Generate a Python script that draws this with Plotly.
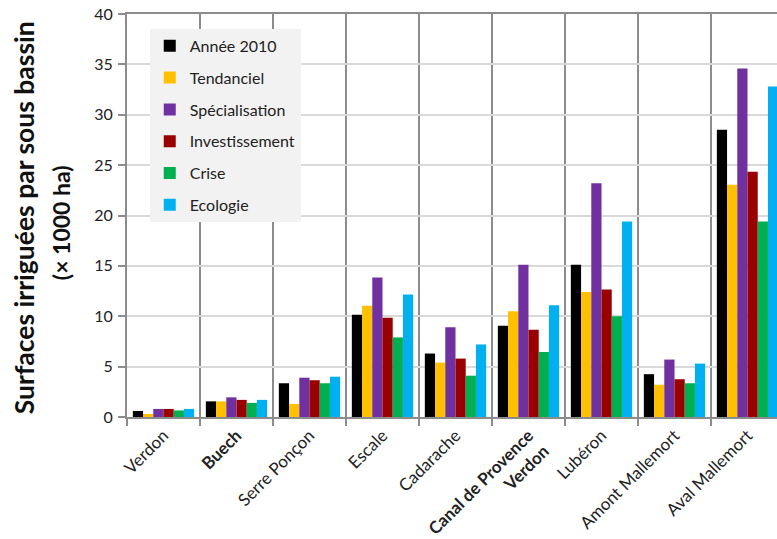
import plotly.graph_objects as go

categories = ["Verdon", "<b>Buech</b>", "Serre Ponçon", "Escale", "Cadarache",
              "<b>Canal de Provence<br>Verdon</b>", "Lubéron", "Amont Mallemort", "Aval Mallemort"]

annee_2010     = [0.6, 1.55, 3.35, 10.15, 6.3, 9.05, 15.1, 4.25, 28.5]
tendanciel     = [0.3, 1.55, 1.3, 11.05, 5.4, 10.5, 12.4, 3.2, 23.05]
specialisation = [0.8, 1.95, 3.9, 13.85, 8.9, 15.1, 23.2, 5.7, 34.6]
investissement = [0.8, 1.7, 3.65, 9.85, 5.8, 8.65, 12.65, 3.75, 24.35]
crise          = [0.65, 1.4, 3.35, 7.9, 4.1, 6.45, 10.0, 3.35, 19.4]
ecologie       = [0.8, 1.7, 4.0, 12.15, 7.2, 11.1, 19.4, 5.3, 32.8]

series = [
    ("Année 2010", annee_2010, "#000000"),
    ("Tendanciel", tendanciel, "#FFC000"),
    ("Spécialisation", specialisation, "#7030A0"),
    ("Investissement", investissement, "#990000"),
    ("Crise", crise, "#00B050"),
    ("Ecologie", ecologie, "#00B0F0"),
]

FONT = "Lato"

fig = go.Figure()
for i, (name, vals, col) in enumerate(series):
    fig.add_trace(go.Bar(x=categories, y=vals, name=name, marker_color=col,
                         marker_line_width=0, legendgroup=f"g{i}"))

fig.update_layout(
    width=777, height=539,
    margin=dict(l=127, r=0, t=14, b=122, autoexpand=False),
    paper_bgcolor="white", plot_bgcolor="white",
    barmode="group", bargap=0.16, bargroupgap=0,
    font=dict(family=FONT, color="#222222"),
    showlegend=True,
    legend=dict(x=0.035, y=0.963, xanchor="left", yanchor="top",
                bgcolor="#F2F2F2", font=dict(size=16, family=FONT, color="#222222"),
                tracegroupgap=8, itemwidth=30, borderwidth=0),
    xaxis=dict(range=[-0.5, 8.404], tickson="boundaries", showgrid=True, automargin=False,
               gridcolor="#8C8C8C", gridwidth=2, showline=True, linecolor="#8C8C8C",
               linewidth=2, mirror=True, ticks="outside", ticklen=7, tickcolor="#8C8C8C",
               tickwidth=2, tickangle=-45, tickfont=dict(size=17, family=FONT, color="#222222")),
    yaxis=dict(range=[0, 40], dtick=5, showgrid=True, gridcolor="#D9D9D9", gridwidth=2,
               automargin=False, ticklabelstandoff=2, ticklabeloverflow="allow",
               showline=True, linecolor="#8C8C8C", linewidth=2, ticks="outside",
               ticklen=7, tickcolor="#8C8C8C", tickwidth=2, zeroline=False,
               tickfont=dict(size=16, family=FONT, color="#222222")),
)

fig.add_annotation(text="<b>Surfaces irriguées par sous bassin</b>", xref="paper", yref="paper",
                   x=-0.158, y=0.494, xanchor="center", yanchor="middle", textangle=-90,
                   showarrow=False, font=dict(size=26.5, family=FONT, color="#111111"))
fig.add_annotation(text="<b>(× 1000 ha)</b>", xref="paper", yref="paper",
                   x=-0.1015, y=0.481, xanchor="center", yanchor="middle", textangle=-90,
                   showarrow=False, font=dict(size=23, family=FONT, color="#111111"))

fig.write_html("out.html", config={"displayModeBar": False},
               post_script="document.body.style.margin='0';")
